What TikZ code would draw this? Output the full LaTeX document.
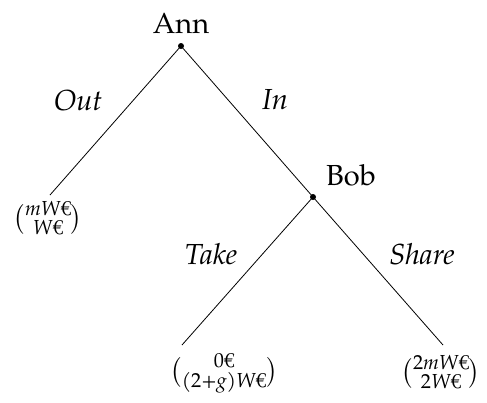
\documentclass[tikz,border=0pt]{standalone}
\usepackage{amsmath}
\usepackage{fontspec}
\setmainfont{TeX Gyre Pagella}
\newcommand\payoff[2]{$\binom{\text{#1}}{\text{#2}}$}
\begin{document}
\begin{tikzpicture}[x=1pt,y=-1pt,
  every node/.style={font=\fontsize{29}{34}\selectfont},
  dotnode/.style={circle,fill=black,inner sep=0pt,minimum size=6pt},
  edge/.style={line width=0.8pt},
  lbl/.style={font=\fontsize{29}{34}\selectfont\itshape}]
\useasboundingbox (0,0) rectangle (487,402);
\node[dotnode] (ann) at (181,46) {};
\node[dotnode] (bob) at (313,197) {};
\coordinate (l1) at (50,195);
\coordinate (l2) at (182,345);
\coordinate (l3) at (443,345);
\node[anchor=base] (annlbl) at (181,33) {Ann};
\node[anchor=base] (boblbl) at (351,185) {Bob};
\draw[edge] (ann.center) -- (l1);
\draw[edge] (ann.center) -- (bob.center);
\draw[edge] (bob.center) -- (l2);
\draw[edge] (bob.center) -- (l3);
\node[lbl,anchor=base] (out) at (78,110) {Out};
\node[lbl,anchor=base] (in) at (275,109) {In};
\node[lbl,anchor=base] (take) at (211,264) {Take};
\node[lbl,anchor=base] (share) at (422,264) {Share};
\node (p1) at (48,218) {\payoff{\textit{mW}€}{\textit{W}€}};
\node (p2) at (224,373) {\payoff{0€}{(2+\textit{g})\textit{W}€}};
\node (p3) at (441,372) {\payoff{2\textit{mW}€}{2\textit{W}€}};
\end{tikzpicture}
\end{document}
